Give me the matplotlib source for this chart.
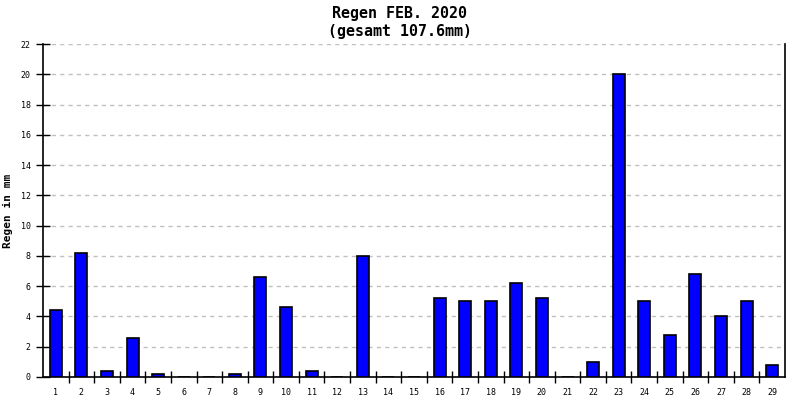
import matplotlib
matplotlib.use('Agg')
import matplotlib.pyplot as plt
import numpy as np

days = list(range(1, 30))
rain = [4.4, 8.2, 0.4, 2.6, 0.2, 0.0, 0.0, 0.2, 6.6, 4.6,
        0.4, 0.0, 8.0, 0.0, 0.0, 5.2, 5.0, 5.0, 6.2, 5.2,
        0.0, 1.0, 20.0, 5.0, 2.8, 6.8, 4.0, 5.0, 0.8]
total = 107.6

plt.rcParams['font.family'] = 'DejaVu Sans Mono'

fig = plt.figure(figsize=(8, 4), dpi=100)
ax = fig.add_axes([43 / 800, 23 / 400, 742 / 800, 333 / 400])

x = np.array(days)
ax.bar(x, rain, width=0.47, color='#0000ff', edgecolor='black', linewidth=1.2, zorder=3)

ax.set_xlim(0.5, 29.5)
ax.set_ylim(0, 22)
ax.set_yticks(range(0, 23, 2))
ax.set_xticks(x)
ax.set_xticks(x[:-1] + 0.5, minor=True)
ax.tick_params(axis='x', which='major', length=0, labelsize=6, pad=8)
ax.tick_params(axis='x', which='minor', direction='inout', length=9, width=1)
ax.tick_params(axis='y', direction='inout', length=10, width=1, labelsize=6, pad=4)

ax.grid(axis='y', color='#c0c0c0', linestyle=(0, (3, 3)), linewidth=1, zorder=0)
ax.spines['top'].set_visible(False)
for s in ['left', 'right', 'bottom']:
    ax.spines[s].set_linewidth(1.2)

ax.set_ylabel('Regen in mm', fontsize=8, fontweight='bold')
ax.yaxis.set_label_coords(-0.0405, 0.5)
fig.text(0.5, 0.985, 'Regen FEB. 2020\n(gesamt %.1fmm)' % total,
         ha='center', va='top', fontsize=10.8, fontweight='bold', linespacing=1.25)

fig.savefig('out.png', dpi=100)
